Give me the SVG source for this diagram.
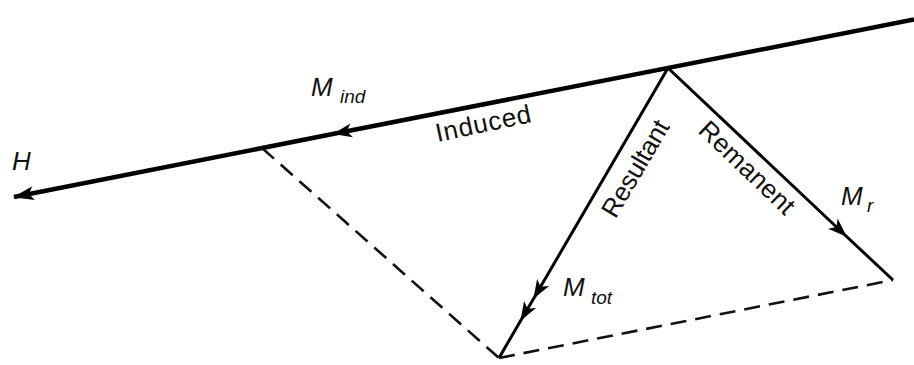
<svg xmlns="http://www.w3.org/2000/svg" width="914" height="365" viewBox="0 0 914 365">
<style>
.solid{fill:none;stroke:#000;stroke-linejoin:miter;stroke-linecap:butt}
.dash{fill:none;stroke:#111;stroke-width:2.6;stroke-dasharray:16 9}
.lbl{font-family:"Liberation Sans",Arial,sans-serif;font-size:26px;fill:#111}
.sym{font-family:"Liberation Sans",Arial,sans-serif;font-style:italic;font-size:26px;fill:#111}
.sub{font-family:"Liberation Sans",Arial,sans-serif;font-style:italic;font-size:19px;fill:#111}
</style>
<defs>
<marker id="arr" markerUnits="userSpaceOnUse" markerWidth="24" markerHeight="18" viewBox="-20 -9 22 18" refX="0" refY="0" orient="auto">
<path d="M1,0 L-18,-7 L-13,0 L-18,7 z" fill="#000"/>
</marker>
<marker id="arrH" markerUnits="userSpaceOnUse" markerWidth="26" markerHeight="18" viewBox="-22 -9 24 18" refX="0" refY="0" orient="auto">
<path d="M1,0 L-20,-7 L-15,0 L-20,7 z" fill="#000"/>
</marker>
</defs>
<g id="connectors">
<path id="h-line" class="solid" stroke-width="4.5" d="M914,19.5 L334,133.8 L14,197" marker-mid="url(#arr)" marker-end="url(#arrH)"/>
<path id="resultant-line" class="solid" stroke-width="3" d="M668,68 L534,298 L521,320 L499,358" marker-mid="url(#arr)"/>
<path id="remanent-line" class="solid" stroke-width="3" d="M668,68 L846,236 L893,280" marker-mid="url(#arr)"/>
<path id="dash-left" class="dash" d="M262,148 L499,358"/>
<path id="dash-bottom" class="dash" d="M499,358 L893,280"/>
</g>
<g id="label-H"><text class="sym" x="12" y="170">H</text></g>
<g id="label-Mind"><text class="sym" x="311" y="96">M</text><text class="sub" x="340" y="103">ind</text></g>
<g id="label-induced"><text class="lbl" transform="translate(485,132) rotate(-12)" text-anchor="middle" textLength="97">Induced</text></g>
<g id="label-resultant"><text class="lbl" transform="translate(643,173) rotate(-59.5)" text-anchor="middle" textLength="108">Resultant</text></g>
<g id="label-remanent"><text class="lbl" transform="translate(741,174) rotate(43.7)" text-anchor="middle" textLength="122">Remanent</text></g>
<g id="label-Mr"><text class="sym" x="841" y="205">M</text><text class="sub" x="867" y="212">r</text></g>
<g id="label-Mtot"><text class="sym" x="563" y="296">M</text><text class="sub" x="591" y="304">tot</text></g>
</svg>
